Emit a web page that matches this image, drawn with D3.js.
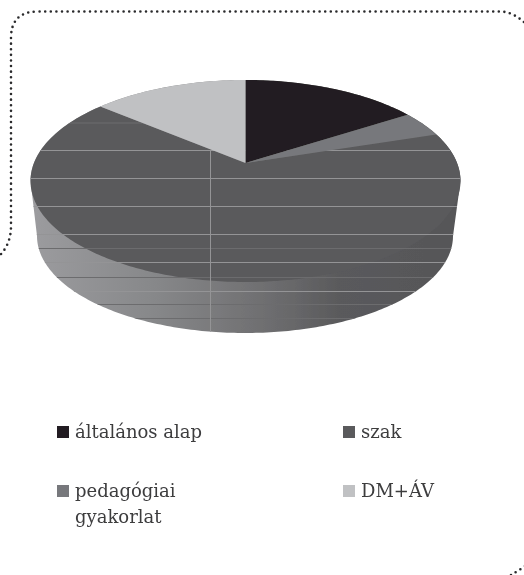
<!DOCTYPE html>
<html>
<head>
<meta charset="utf-8">
<style>
  html, body { margin: 0; padding: 0; background: #fff; overflow: hidden; }
  svg { display: block; }
  .legend text { font-family: "DejaVu Serif", serif; font-size: 18px; fill: #3c3c3e; }
</style>
</head>
<body>
<div id="chart"></div>
<script src="https://cdn.jsdelivr.net/npm/d3@7"></script>
<script>
// Data
const categories = ["általános alap", "pedagógiai gyakorlat", "szak", "DM+ÁV"];
const values = [13.6, 3.8, 70.8, 11.8];
const colors = ["#231f20", "#77787b", "#5a5a5c", "#c0c1c3"];
const legendLines = [["általános alap"], ["pedagógiai", "gyakorlat"], ["szak"], ["DM+ÁV"]];

// Layout
const width = 524, height = 575;
const face = { cx: 245.5, cy: 181, rx: 215, ry: 101 };
const base = { cx: 245, cy: 236, rx: 208, ry: 97 };
const apex = [245.5, 163];
const gridStrong = [150, 178, 206, 234, 262, 291];
const gridFaint = [122.5, 248, 277, 304, 318];
const gridX = 210.5;

const svg = d3.select("#chart").append("svg")
  .attr("width", width)
  .attr("height", height);

const defs = svg.append("defs");

defs.append("filter").attr("id", "soft")
  .append("feGaussianBlur").attr("stdDeviation", 0.45);

const sideGrad = defs.append("linearGradient")
  .attr("id", "side")
  .attr("gradientUnits", "userSpaceOnUse")
  .attr("x1", 35).attr("x2", 455).attr("y1", 0).attr("y2", 0);
[[0, "#9b9b9e"], [0.28, "#87888a"], [0.45, "#78787a"], [0.6, "#69696b"], [0.72, "#5a5a5c"], [1, "#565658"]]
  .forEach(s => sideGrad.append("stop").attr("offset", s[0]).attr("stop-color", s[1]));

const color = d3.scaleOrdinal().domain(categories).range(colors);

// Angle 0 is at the top of the ellipse, clockwise
const rim = (e, t) => [e.cx + e.rx * Math.sin(t), e.cy - e.ry * Math.cos(t)];
const line = d3.line();

const arcs = d3.pie().sort(null).value((d, i) => values[i])(categories);

function slicePoints(a) {
  const n = Math.ceil((a.endAngle - a.startAngle) * 60);
  const pts = d3.range(n + 1).map(i =>
    rim(face, a.startAngle + (a.endAngle - a.startAngle) * i / n));
  return [apex, ...pts];
}

// Whole silhouette: round the lower ellipse, then back over the top one
const lowerRim = d3.range(0, 181).map(i => rim(base, Math.PI / 2 + (i / 180) * Math.PI));
const upperBack = d3.range(0, 181).map(i => rim(face, Math.PI * 1.5 + (i / 180) * Math.PI));
const sidePath = line([...lowerRim, ...upperBack]) + "Z";

defs.append("clipPath").attr("id", "gridClip")
  .append("path").attr("d", sidePath);

const pie = svg.append("g").attr("filter", "url(#soft)");

pie.append("path").attr("d", sidePath).attr("fill", "url(#side)");

pie.selectAll(".slice")
  .data(arcs.filter(a => a.data === "szak"))
  .enter().append("path")
  .attr("class", "slice")
  .attr("d", a => line(slicePoints(a)) + "Z")
  .attr("fill", a => color(a.data));

// Gridlines showing through the large slice and the wall
const grid = pie.append("g").attr("clip-path", "url(#gridClip)");
grid.selectAll(".strong").data(gridStrong).enter().append("line")
  .attr("class", "strong")
  .attr("x1", 0).attr("x2", width)
  .attr("y1", d => d + 0.5).attr("y2", d => d + 0.5)
  .attr("stroke", "#949496").attr("stroke-width", 1);
grid.selectAll(".faint").data(gridFaint).enter().append("line")
  .attr("class", "faint")
  .attr("x1", 0).attr("x2", width)
  .attr("y1", d => d + 0.5).attr("y2", d => d + 0.5)
  .attr("stroke", "#6c6c6e").attr("stroke-width", 1);
grid.append("line")
  .attr("x1", gridX).attr("x2", gridX)
  .attr("y1", 150).attr("y2", 332)
  .attr("stroke", "#949496").attr("stroke-width", 1);

// Remaining slices sit on top of the grid
pie.selectAll(".small")
  .data(arcs.filter(a => a.data !== "szak"))
  .enter().append("path")
  .attr("class", "small")
  .attr("d", a => line(slicePoints(a)) + "Z")
  .attr("fill", a => color(a.data));

// Dotted frame, it runs off the page at the left and right
const frame = d3.path();
frame.moveTo(-3, 258);
frame.quadraticCurveTo(11, 246, 11, 226);
frame.lineTo(11, 38);
frame.quadraticCurveTo(11, 11.5, 38, 11.5);
frame.lineTo(500, 11.5);
frame.quadraticCurveTo(514, 11.5, 528, 26);
frame.moveTo(511, 575);
frame.quadraticCurveTo(518, 571, 528, 564);

svg.append("path")
  .attr("d", frame.toString())
  .attr("fill", "none")
  .attr("stroke", "#2a2a2c")
  .attr("stroke-width", 2.6)
  .attr("stroke-linecap", "round")
  .attr("stroke-dasharray", "0 5.6");

// Legend
const legendX = d3.scaleOrdinal().domain(categories).range([57, 57, 343, 343]);
const legendY = d3.scaleOrdinal().domain(categories).range([426, 485, 426, 485]);

const legend = svg.append("g").attr("class", "legend").attr("filter", "url(#soft)");
const items = legend.selectAll("g")
  .data(categories)
  .enter().append("g")
  .attr("transform", d => `translate(${legendX(d)},${legendY(d)})`);

items.append("rect")
  .attr("width", 12)
  .attr("height", 12)
  .attr("fill", d => color(d));

items.append("text")
  .attr("x", 18)
  .attr("y", 12)
  .selectAll("tspan")
  .data((d, i) => legendLines[i])
  .enter().append("tspan")
  .attr("x", 18)
  .attr("dy", (d, i) => i ? 26 : 0)
  .text(d => d);
</script>
</body>
</html>
